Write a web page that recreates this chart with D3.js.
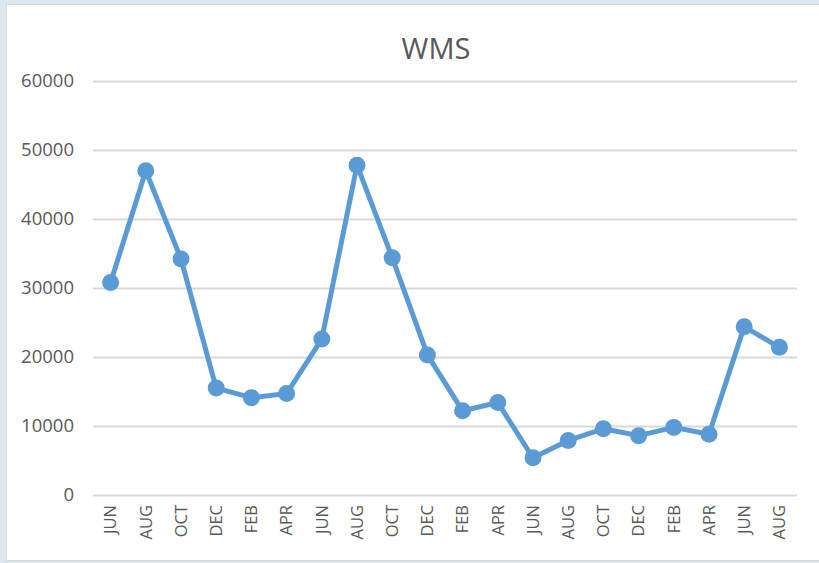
<!DOCTYPE html>
<html>
<head>
<meta charset="utf-8">
<script src="https://cdn.jsdelivr.net/npm/d3@7"></script>
<style>
  body { margin: 0; background: #dde7f0; }
  svg { display: block; }
</style>
</head>
<body>
<script>
// months along the x axis
var months = ["JUN", "AUG", "OCT", "DEC", "FEB", "APR", "JUN", "AUG", "OCT", "DEC",
    "FEB", "APR", "JUN", "AUG", "OCT", "DEC", "FEB", "APR", "JUN", "AUG"];

// WMS values
var wms = [30800, 47000, 34200, 15500, 14100, 14700, 22600, 47800, 34400, 20300,
    12200, 13400, 5400, 7900, 9600, 8600, 9800, 8800, 24400, 21400];

var yTicks = [0, 10000, 20000, 30000, 40000, 50000, 60000];

var width = 819, height = 563;
var margin = { left: 93, right: 22, top: 81, bottom: 68 };
var font = "'Open Sans', 'Liberation Sans', sans-serif";

var svg = d3.select("body").append("svg")
    .attr("width", width)
    .attr("height", height);

// white chart area with thin border
svg.append("rect")
    .attr("x", 6.5).attr("y", 4.5)
    .attr("width", width - 6).attr("height", height - 7)
    .attr("fill", "#ffffff")
    .attr("stroke", "#d9d9d9");

var x = d3.scaleBand()
    .domain(d3.range(months.length))
    .range([margin.left, width - margin.right]);

var y = d3.scaleLinear()
    .domain([0, 60000])
    .range([height - margin.bottom, margin.top]);

// gridlines
svg.append("g")
    .selectAll("line")
    .data(yTicks)
    .enter()
    .append("line")
    .attr("x1", margin.left)
    .attr("x2", width - margin.right)
    .attr("y1", function(d) { return Math.round(y(d)) + 0.5; })
    .attr("y2", function(d) { return Math.round(y(d)) + 0.5; })
    .attr("stroke", "#d9d9d9")
    .attr("stroke-width", 2);

// y axis labels
var yAxis = svg.append("g")
    .attr("transform", "translate(" + (margin.left - 19) + ",0)")
    .call(d3.axisLeft(y).tickValues(yTicks).tickSize(0).tickPadding(0).tickFormat(d3.format("d")));
yAxis.select(".domain").remove();
yAxis.selectAll("text")
    .attr("fill", "#595959")
    .style("font-family", font)
    .style("font-size", "18.5px");

// x axis labels, rotated
var xAxis = svg.append("g")
    .attr("transform", "translate(0," + (height - margin.bottom + 10) + ")")
    .call(d3.axisBottom(x).tickSize(0).tickPadding(0).tickFormat(function(i) { return months[i]; }));
xAxis.select(".domain").remove();
xAxis.selectAll("text")
    .attr("transform", "rotate(-90)")
    .attr("x", 0)
    .attr("y", 0)
    .attr("dy", "0.35em")
    .attr("text-anchor", "end")
    .attr("fill", "#595959")
    .style("font-family", font)
    .style("font-size", "16.5px");

// title
svg.append("text")
    .attr("x", 436)
    .attr("y", 59)
    .attr("text-anchor", "middle")
    .attr("fill", "#595959")
    .style("font-family", font)
    .style("font-size", "29px")
    .text("WMS");

// line
var line = d3.line()
    .x(function(d, i) { return x(i) + x.bandwidth() / 2; })
    .y(function(d) { return y(d); });

svg.append("path")
    .datum(wms)
    .attr("d", line)
    .attr("fill", "none")
    .attr("stroke", "#5b9bd5")
    .attr("stroke-width", 5)
    .attr("stroke-linejoin", "round");

svg.selectAll("circle")
    .data(wms)
    .enter()
    .append("circle")
    .attr("cx", function(d, i) { return x(i) + x.bandwidth() / 2; })
    .attr("cy", function(d) { return y(d); })
    .attr("r", 8.5)
    .attr("fill", "#5b9bd5");
</script>
</body>
</html>
